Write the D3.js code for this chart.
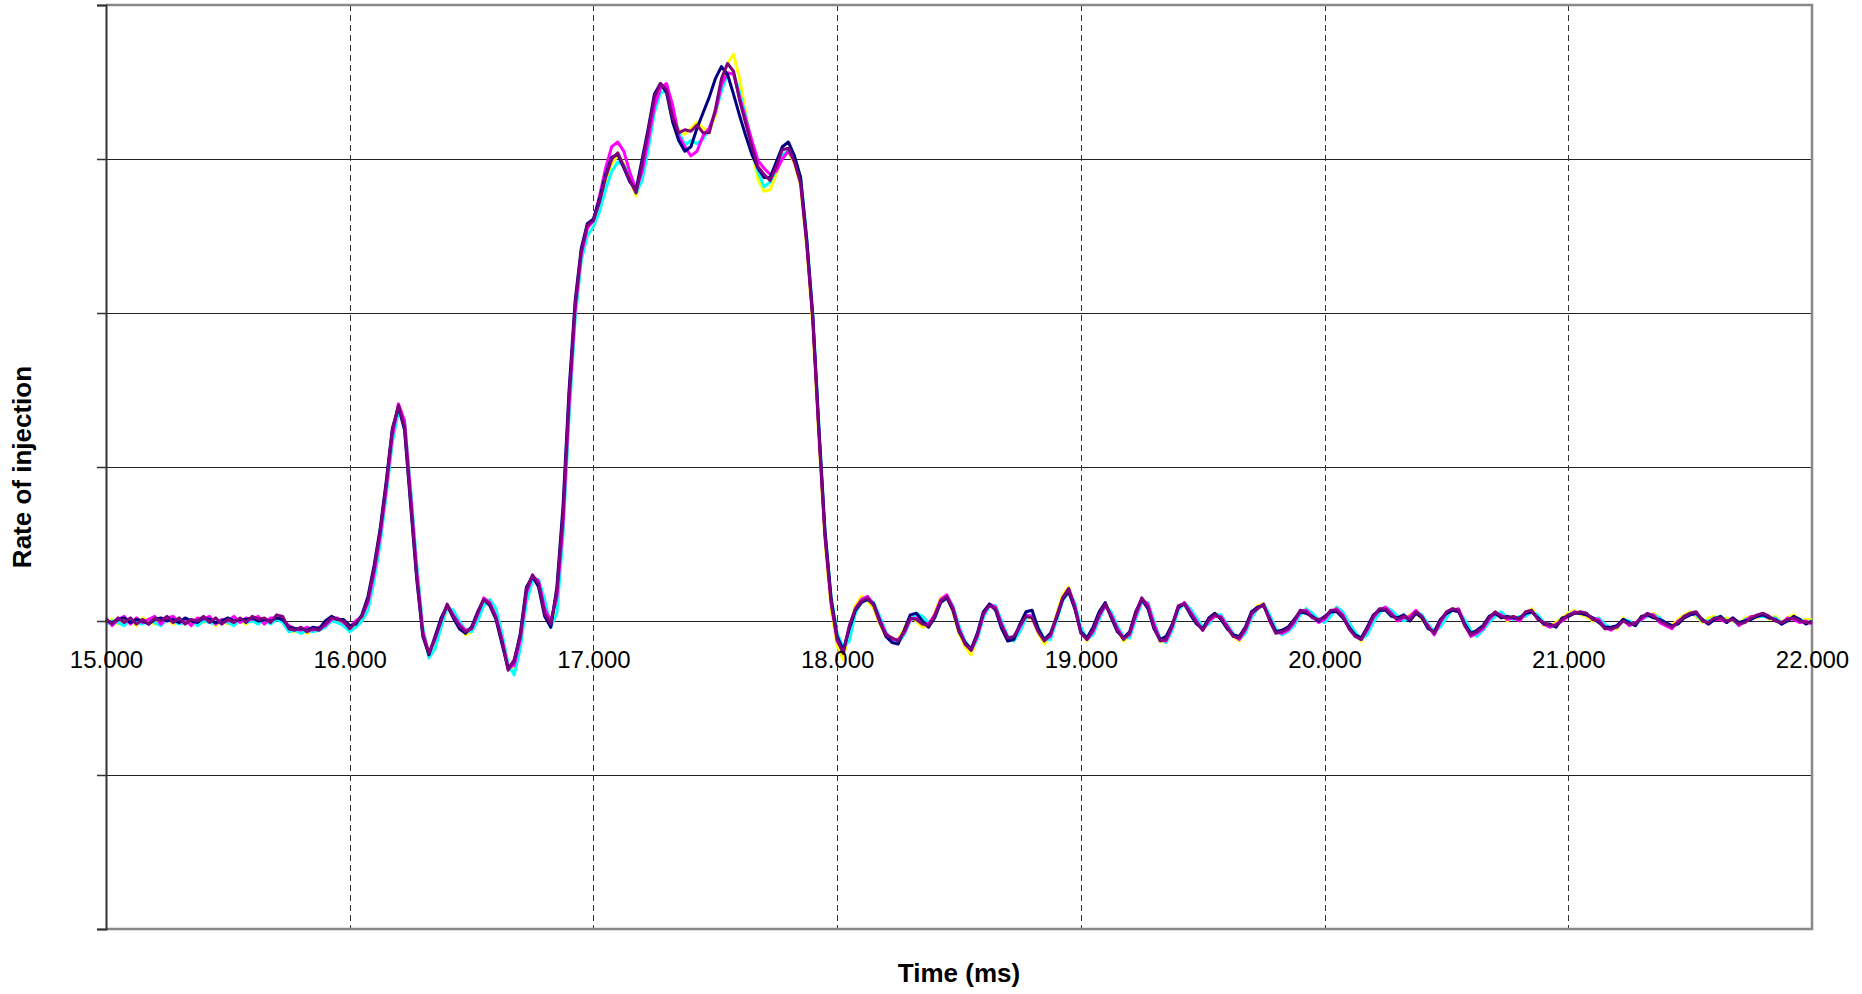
<!DOCTYPE html>
<html>
<head>
<meta charset="utf-8">
<script src="https://cdn.jsdelivr.net/npm/d3@7"></script>
<style>
  body { margin: 0; background: #fff; }
  svg { display: block; font-family: 'Liberation Sans', Arial, sans-serif; }
</style>
</head>
<body>
<div id="chart"></div>
<script>
// Data: rate of injection, sampled every 0.025 ms from 15 to 22 ms (one row = 0.5 ms)
const tStart = 15
const tStep = 0.025
const xTicks = [15, 16, 17, 18, 19, 20, 21, 22]
const yTicks = [-2, -1, 0, 1, 2, 3, 4]

const yellowShot = [
  -0.01,0.01,-0.02,0.01,0.00,-0.03,0.02,0.00,-0.02,0.01,0.02,-0.02,0.00,0.01,-0.02,0.01,-0.01,0.02,-0.03,0.00,
  -0.02,0.01,0.00,-0.02,0.01,0.00,-0.01,0.01,0.02,0.00,-0.06,-0.07,-0.05,-0.08,-0.06,-0.05,-0.03,0.01,0.00,-0.01,
  -0.05,-0.02,0.01,0.09,0.28,0.52,0.84,1.18,1.38,1.29,0.84,0.35,-0.05,-0.22,-0.15,-0.03,0.08,0.05,-0.02,-0.09,
  -0.07,0.02,0.12,0.14,0.06,-0.10,-0.29,-0.32,-0.15,0.15,0.27,0.26,0.10,-0.02,0.10,0.58,1.36,1.98,2.35,2.50,
  2.56,2.68,2.84,2.97,3.02,2.97,2.87,2.76,2.90,3.12,3.36,3.47,3.46,3.30,3.19,3.16,3.20,3.24,3.20,3.18,
  3.28,3.46,3.62,3.68,3.52,3.30,3.06,2.87,2.79,2.80,2.90,3.03,3.05,2.97,2.83,2.43,1.92,1.18,0.52,0.08,
  -0.16,-0.25,-0.05,0.10,0.16,0.13,0.08,-0.02,-0.10,-0.12,-0.12,-0.05,0.03,0.00,-0.04,-0.03,0.05,0.15,0.16,0.06,
  -0.08,-0.17,-0.22,-0.11,0.04,0.11,0.09,-0.03,-0.12,-0.12,-0.05,0.02,0.02,-0.08,-0.15,-0.10,0.04,0.17,0.22,0.10,
  -0.06,-0.13,-0.08,0.03,0.10,0.05,-0.05,-0.13,-0.10,0.03,0.13,0.10,-0.02,-0.13,-0.14,-0.05,0.08,0.12,0.07,0.01,
  -0.05,-0.01,0.05,0.03,-0.03,-0.10,-0.13,-0.07,0.03,0.10,0.11,0.02,-0.06,-0.09,-0.06,-0.02,0.05,0.08,0.04,0.00,
  0.00,0.05,0.09,0.05,-0.03,-0.08,-0.13,-0.07,0.01,0.06,0.09,0.06,0.02,0.01,0.04,0.06,0.01,-0.04,-0.08,-0.02,
  0.04,0.08,0.07,0.00,-0.08,-0.09,-0.04,0.00,0.04,0.05,0.00,0.03,0.02,0.04,0.08,0.03,-0.03,-0.03,-0.01,0.02,
  0.05,0.07,0.04,0.03,0.00,0.02,-0.03,-0.05,-0.05,0.02,-0.01,-0.02,0.03,0.03,0.05,0.02,-0.03,-0.03,0.01,0.04,
  0.06,0.03,-0.01,0.02,0.03,0.01,0.02,0.00,-0.02,0.02,0.03,0.02,0.05,0.01,0.03,-0.01,0.02,0.04,0.00,0.01,
  0.01
]

const cyanShot = [
  -0.02,0.00,-0.01,-0.03,0.01,-0.01,-0.02,0.01,-0.01,-0.03,0.01,0.00,-0.02,-0.01,0.01,-0.03,0.00,-0.01,-0.02,0.01,
  -0.01,-0.03,0.01,-0.01,0.00,-0.02,0.01,-0.02,0.01,-0.01,-0.07,-0.06,-0.08,-0.06,-0.07,-0.06,-0.04,0.00,-0.01,-0.03,
  -0.07,-0.04,0.00,0.07,0.26,0.50,0.82,1.16,1.36,1.30,0.86,0.37,-0.04,-0.24,-0.18,-0.04,0.09,0.07,0.00,-0.06,
  -0.07,0.00,0.10,0.14,0.08,-0.08,-0.28,-0.35,-0.18,0.12,0.26,0.27,0.14,-0.04,0.05,0.55,1.32,1.96,2.34,2.50,
  2.56,2.66,2.80,2.92,2.98,2.96,2.88,2.78,2.86,3.06,3.30,3.43,3.44,3.30,3.18,3.09,3.12,3.10,3.13,3.20,
  3.30,3.44,3.55,3.56,3.43,3.28,3.10,2.92,2.82,2.85,2.93,3.02,3.06,3.00,2.88,2.50,2.00,1.28,0.60,0.16,
  -0.08,-0.17,-0.13,0.05,0.13,0.14,0.12,0.03,-0.07,-0.13,-0.14,-0.09,0.00,0.05,0.03,-0.01,0.02,0.12,0.16,0.10,
  -0.03,-0.13,-0.19,-0.12,0.02,0.10,0.10,0.00,-0.10,-0.13,-0.07,0.02,0.04,-0.04,-0.12,-0.12,0.00,0.13,0.19,0.12,
  -0.04,-0.12,-0.09,0.01,0.10,0.06,-0.03,-0.10,-0.11,0.01,0.12,0.12,0.00,-0.11,-0.14,-0.06,0.07,0.12,0.08,0.02,
  -0.04,-0.02,0.04,0.04,-0.02,-0.08,-0.12,-0.08,0.02,0.08,0.11,0.04,-0.05,-0.09,-0.07,-0.03,0.04,0.08,0.05,0.01,
  -0.01,0.03,0.09,0.06,-0.01,-0.07,-0.12,-0.09,-0.01,0.05,0.09,0.07,0.03,0.00,0.02,0.06,0.04,-0.02,-0.07,-0.04,
  0.02,0.08,0.06,0.01,-0.06,-0.10,-0.06,-0.01,0.03,0.06,0.02,0.01,0.03,0.03,0.06,0.04,-0.01,-0.04,-0.03,0.00,
  0.04,0.06,0.05,0.05,0.01,0.02,-0.02,-0.05,-0.04,0.01,0.00,-0.03,0.01,0.03,0.04,0.02,-0.02,-0.04,-0.01,0.03,
  0.05,0.04,0.00,0.00,0.02,0.03,0.00,0.01,-0.03,0.01,0.02,0.03,0.03,0.02,0.02,-0.01,0.01,0.02,0.01,-0.01,
  0.00
]

const magentaShot = [
  0.02,-0.03,0.01,0.03,-0.02,0.02,-0.01,0.01,0.03,-0.02,0.02,0.03,-0.01,0.01,-0.03,0.02,0.01,0.03,-0.02,0.01,
  0.00,0.03,-0.01,0.02,0.01,0.03,-0.02,0.02,0.02,0.01,-0.03,-0.05,-0.06,-0.04,-0.06,-0.04,-0.03,0.01,0.02,-0.01,
  -0.04,0.00,0.03,0.12,0.31,0.55,0.86,1.20,1.41,1.30,0.82,0.32,-0.07,-0.21,-0.12,0.01,0.10,0.04,-0.02,-0.06,
  -0.05,0.04,0.15,0.12,0.03,-0.12,-0.30,-0.29,-0.12,0.18,0.29,0.26,0.08,0.00,0.15,0.62,1.40,2.02,2.38,2.55,
  2.60,2.76,2.94,3.08,3.11,3.05,2.91,2.80,2.92,3.12,3.34,3.46,3.49,3.35,3.15,3.08,3.02,3.05,3.15,3.20,
  3.30,3.48,3.56,3.55,3.40,3.26,3.12,2.99,2.94,2.90,2.92,3.00,3.05,2.99,2.86,2.47,1.97,1.24,0.57,0.13,
  -0.13,-0.20,-0.04,0.08,0.14,0.16,0.11,0.01,-0.08,-0.12,-0.12,-0.08,0.01,0.02,-0.01,-0.02,0.04,0.14,0.17,0.09,
  -0.05,-0.14,-0.19,-0.10,0.04,0.11,0.09,-0.02,-0.11,-0.11,-0.04,0.04,0.03,-0.06,-0.12,-0.10,0.02,0.14,0.21,0.10,
  -0.07,-0.12,-0.07,0.03,0.10,0.04,-0.05,-0.11,-0.09,0.03,0.14,0.11,-0.02,-0.12,-0.13,-0.04,0.09,0.12,0.06,0.00,
  -0.06,0.00,0.03,0.03,-0.03,-0.09,-0.12,-0.06,0.04,0.09,0.10,0.02,-0.07,-0.08,-0.06,-0.01,0.06,0.07,0.03,-0.01,
  0.01,0.06,0.08,0.04,-0.04,-0.09,-0.12,-0.06,0.02,0.07,0.09,0.05,0.00,0.02,0.03,0.07,0.02,-0.03,-0.09,-0.01,
  0.05,0.07,0.08,-0.02,-0.10,-0.08,-0.05,0.01,0.05,0.04,0.01,0.02,0.00,0.05,0.06,0.02,-0.02,-0.04,-0.02,0.00,
  0.03,0.06,0.05,0.04,0.02,0.01,-0.04,-0.06,-0.03,0.01,-0.03,-0.01,0.01,0.04,0.04,-0.01,-0.03,-0.05,0.00,0.02,
  0.04,0.05,0.01,-0.02,0.01,0.01,-0.01,0.02,-0.03,0.00,0.03,0.03,0.04,0.02,0.01,-0.02,0.02,0.01,-0.01,0.00,
  -0.02
]

const navyShot = [
  0.00,-0.01,0.01,0.02,-0.01,0.01,0.00,-0.02,0.01,0.02,0.00,0.01,-0.01,0.02,0.00,-0.01,0.02,0.01,-0.01,0.00,
  0.02,0.00,0.01,0.01,0.02,0.00,0.01,0.00,0.02,0.01,-0.04,-0.05,-0.05,-0.06,-0.04,-0.05,0.00,0.03,0.01,0.01,
  -0.03,-0.02,0.04,0.16,0.36,0.60,0.91,1.25,1.39,1.24,0.75,0.27,-0.10,-0.22,-0.10,0.02,0.10,0.02,-0.05,-0.08,
  -0.04,0.06,0.14,0.10,0.01,-0.15,-0.31,-0.26,-0.08,0.22,0.29,0.22,0.03,-0.04,0.22,0.74,1.50,2.08,2.42,2.58,
  2.61,2.74,2.90,3.01,3.03,2.94,2.85,2.80,3.00,3.20,3.42,3.49,3.43,3.24,3.12,3.05,3.08,3.20,3.30,3.40,
  3.52,3.60,3.55,3.42,3.28,3.15,3.03,2.94,2.88,2.88,2.98,3.08,3.11,3.02,2.88,2.48,1.98,1.25,0.58,0.15,
  -0.10,-0.19,-0.05,0.07,0.12,0.14,0.11,0.00,-0.10,-0.14,-0.15,-0.06,0.04,0.05,0.00,-0.04,0.02,0.12,0.15,0.07,
  -0.07,-0.14,-0.18,-0.08,0.06,0.11,0.07,-0.05,-0.13,-0.12,-0.02,0.06,0.07,-0.05,-0.12,-0.08,0.02,0.14,0.19,0.08,
  -0.07,-0.11,-0.04,0.06,0.12,0.02,-0.07,-0.11,-0.07,0.06,0.14,0.08,-0.05,-0.12,-0.10,-0.02,0.09,0.11,0.04,-0.02,
  -0.05,0.02,0.05,0.01,-0.05,-0.09,-0.10,-0.04,0.06,0.09,0.10,0.01,-0.07,-0.06,-0.04,0.01,0.06,0.05,0.03,0.00,
  0.03,0.06,0.06,0.02,-0.04,-0.09,-0.11,-0.04,0.04,0.07,0.07,0.03,0.02,0.04,0.00,0.05,0.02,-0.05,-0.07,0.01,
  0.05,0.07,0.06,-0.02,-0.08,-0.06,-0.03,0.03,0.05,0.02,0.03,0.02,0.02,0.05,0.06,0.02,-0.02,-0.02,-0.04,0.02,
  0.03,0.05,0.05,0.04,0.02,-0.01,-0.04,-0.04,-0.03,0.01,-0.01,-0.03,0.03,0.04,0.02,0.01,-0.01,-0.03,-0.02,0.02,
  0.04,0.05,0.01,-0.02,0.01,0.03,-0.01,0.02,-0.01,0.00,0.01,0.03,0.04,0.02,0.01,-0.02,0.00,0.03,0.01,-0.02,
  0.00
]

const purpleShot = [
  0.01,-0.02,0.02,-0.01,0.02,-0.02,0.01,-0.02,0.02,0.00,0.03,-0.01,0.02,-0.02,0.01,0.00,0.03,-0.01,0.02,-0.02,
  0.01,-0.01,0.02,-0.01,0.03,0.01,0.02,-0.01,0.04,0.03,-0.05,-0.06,-0.04,-0.07,-0.05,-0.06,-0.02,0.02,0.01,0.00,
  -0.05,-0.01,0.03,0.14,0.34,0.58,0.89,1.24,1.40,1.26,0.78,0.29,-0.09,-0.21,-0.11,0.00,0.11,0.03,-0.03,-0.07,
  -0.05,0.05,0.14,0.11,0.02,-0.13,-0.32,-0.25,-0.10,0.20,0.30,0.24,0.05,-0.02,0.19,0.68,1.45,2.05,2.40,2.57,
  2.60,2.72,2.88,3.00,3.04,2.95,2.86,2.78,2.97,3.18,3.40,3.49,3.45,3.27,3.17,3.19,3.18,3.22,3.17,3.17,
  3.32,3.52,3.62,3.57,3.38,3.23,3.08,2.95,2.90,2.86,2.95,3.06,3.07,2.98,2.84,2.45,1.96,1.22,0.55,0.12,
  -0.12,-0.21,-0.03,0.08,0.13,0.15,0.10,-0.01,-0.09,-0.11,-0.13,-0.07,0.02,0.01,-0.02,-0.03,0.03,0.13,0.16,0.08,
  -0.06,-0.15,-0.19,-0.09,0.05,0.10,0.08,-0.03,-0.11,-0.10,-0.03,0.03,0.02,-0.07,-0.13,-0.09,0.03,0.15,0.21,0.09,
  -0.08,-0.12,-0.06,0.04,0.11,0.03,-0.06,-0.12,-0.08,0.05,0.15,0.09,-0.04,-0.13,-0.12,-0.03,0.10,0.11,0.05,-0.01,
  -0.06,0.01,0.04,0.02,-0.04,-0.10,-0.11,-0.05,0.05,0.08,0.11,0.00,-0.08,-0.07,-0.05,0.00,0.07,0.06,0.02,0.01,
  0.02,0.07,0.07,0.03,-0.05,-0.10,-0.12,-0.05,0.03,0.08,0.08,0.04,0.01,0.03,0.01,0.06,0.03,-0.04,-0.08,0.00,
  0.06,0.08,0.07,-0.03,-0.09,-0.07,-0.04,0.02,0.06,0.03,0.02,0.03,0.01,0.06,0.07,0.01,-0.01,-0.03,-0.03,0.01,
  0.04,0.05,0.06,0.05,0.01,0.00,-0.05,-0.05,-0.04,0.00,-0.02,-0.02,0.02,0.05,0.03,0.00,-0.02,-0.04,-0.01,0.03,
  0.05,0.06,0.00,-0.01,0.02,0.02,0.00,0.01,-0.02,-0.01,0.02,0.04,0.05,0.03,0.00,-0.01,0.01,0.02,0.00,-0.01,
  -0.01
]

// drawn in this order, last one on top
const series = [
  { name: 'yellow', color: '#ffff00', values: yellowShot },
  { name: 'cyan', color: '#00ffff', values: cyanShot },
  { name: 'magenta', color: '#ff00ff', values: magentaShot },
  { name: 'navy', color: '#000080', values: navyShot },
  { name: 'purple', color: '#800080', values: purpleShot }
]

// Presentation
const width = 1862
const height = 994
const margin = { top: 5, right: 50, bottom: 65, left: 106 }
const plotRight = width - margin.right
const plotBottom = height - margin.bottom

const svg = d3.select('#chart').append('svg')
  .attr('width', width)
  .attr('height', height)

// Scales
const x = d3.scaleLinear().domain([15, 22]).range([margin.left, plotRight])
const y = d3.scaleLinear().domain([-2, 4]).range([plotBottom, margin.top])

// Horizontal grid (solid)
svg.append('g')
  .selectAll('line')
  .data(yTicks.filter(v => v > -2 && v < 4))
  .join('line')
  .attr('x1', margin.left).attr('x2', plotRight)
  .attr('y1', d => Math.round(y(d)) + 0.5).attr('y2', d => Math.round(y(d)) + 0.5)
  .attr('stroke', '#222')
  .attr('stroke-width', 1)

// Vertical grid (dashed)
svg.append('g')
  .selectAll('line')
  .data(xTicks.filter(v => v > 15 && v < 22))
  .join('line')
  .attr('x1', d => Math.round(x(d)) + 0.5).attr('x2', d => Math.round(x(d)) + 0.5)
  .attr('y1', margin.top).attr('y2', plotBottom)
  .attr('stroke', '#333')
  .attr('stroke-width', 1)
  .attr('stroke-dasharray', '6,4')

// Frame: grey top/right/bottom
svg.append('path')
  .attr('d', `M${margin.left},${margin.top}H${plotRight}V${plotBottom}H${margin.left}`)
  .attr('fill', 'none')
  .attr('stroke', '#888')
  .attr('stroke-width', 2.5)

// Curves
const line = d3.line()
  .x((_, i) => x(tStart + i * tStep))
  .y(d => y(d))

svg.append('g')
  .selectAll('path')
  .data(series)
  .join('path')
  .attr('d', d => line(d.values))
  .attr('fill', 'none')
  .attr('stroke', d => d.color)
  .attr('stroke-width', 3)
  .attr('stroke-linejoin', 'round')

// Left axis: ticks only, no labels
const yAxis = d3.axisLeft(y)
  .tickValues(yTicks)
  .tickSize(9)
  .tickFormat('')

const yAxisG = svg.append('g')
  .attr('transform', `translate(${margin.left},0)`)
  .call(yAxis)
yAxisG.select('.domain').attr('stroke', '#333').attr('stroke-width', 2)
yAxisG.selectAll('.tick line').attr('stroke', '#333').attr('stroke-width', 1.5)

// X labels sit on the zero line
const xAxis = d3.axisBottom(x)
  .tickValues(xTicks)
  .tickSize(0)
  .tickPadding(0)
  .tickFormat(d3.format('.3f'))

const xAxisG = svg.append('g')
  .attr('transform', `translate(0,${y(0)})`)
  .call(xAxis)
xAxisG.select('.domain').remove()
xAxisG.selectAll('text')
  .attr('dy', null)
  .attr('y', 47)
  .attr('fill', '#000')
  .style('font-size', '24px')
  .style('font-family', "'Liberation Sans', Arial, sans-serif")

// Axis titles
svg.append('text')
  .attr('x', (margin.left + plotRight) / 2)
  .attr('y', 982)
  .attr('text-anchor', 'middle')
  .style('font-size', '26px')
  .style('font-weight', 'bold')
  .text('Time (ms)')

svg.append('text')
  .attr('transform', `translate(31,${(margin.top + plotBottom) / 2}) rotate(-90)`)
  .attr('text-anchor', 'middle')
  .style('font-size', '26px')
  .style('font-weight', 'bold')
  .text('Rate of injection')
</script>
</body>
</html>
